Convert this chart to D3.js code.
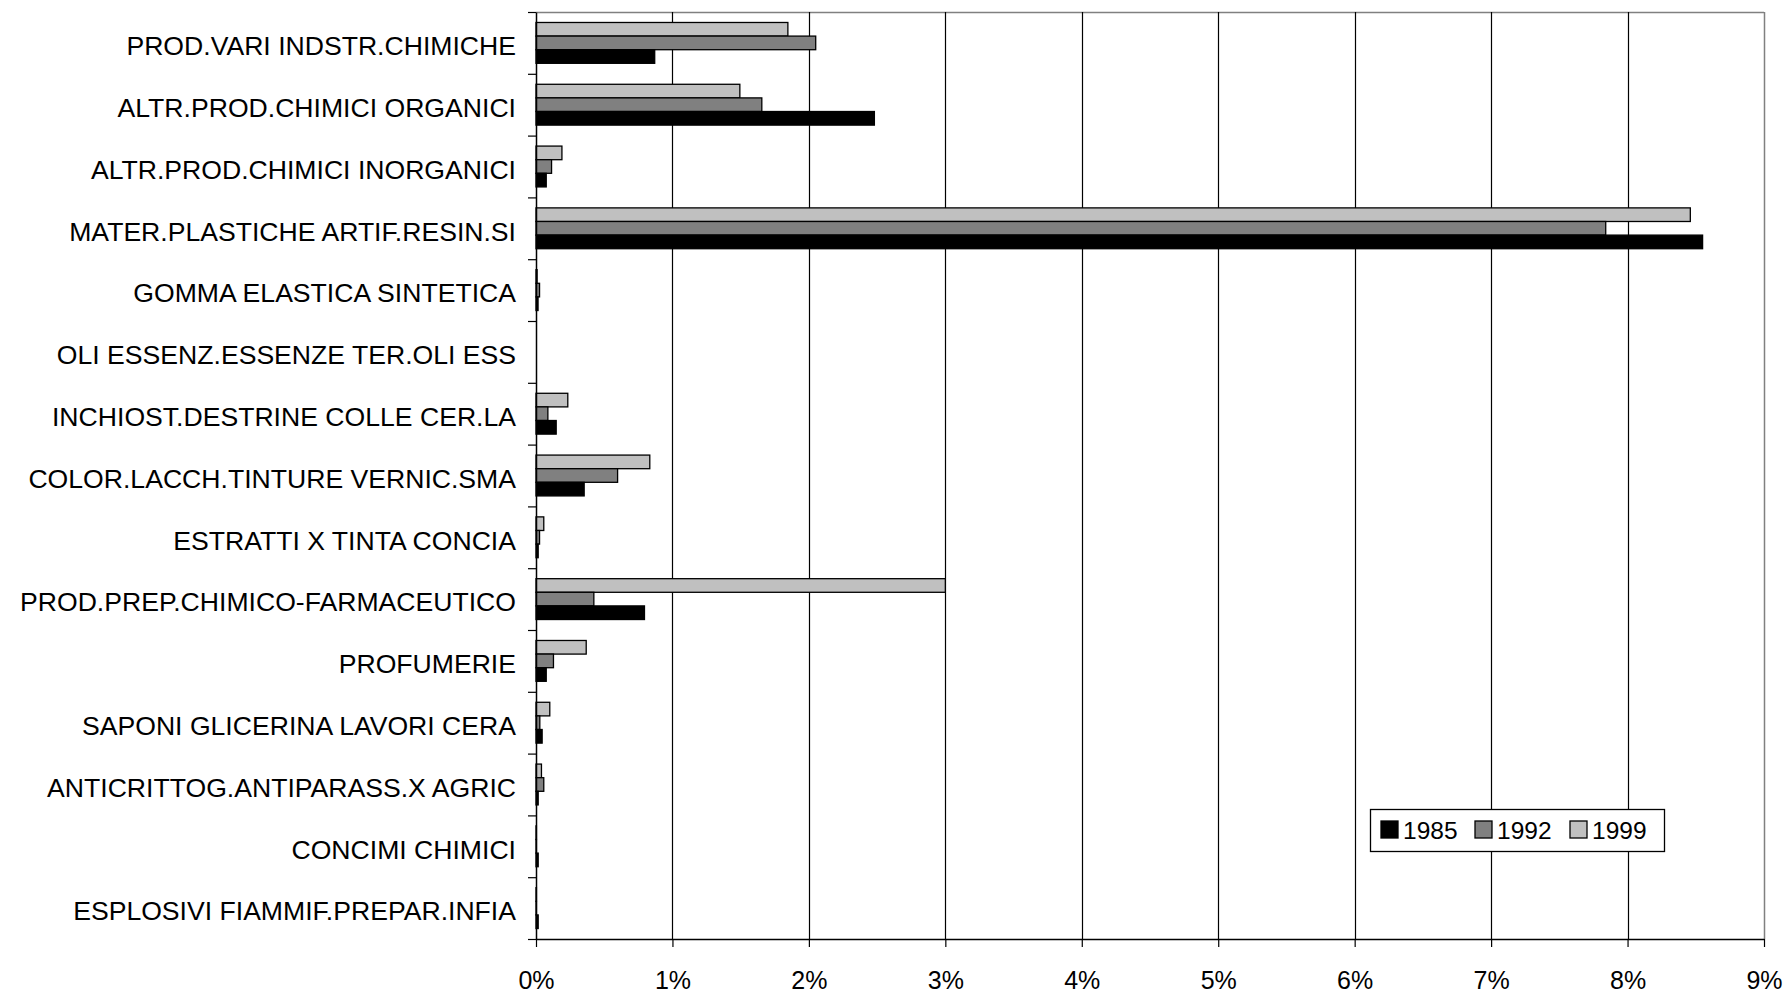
<!DOCTYPE html>
<html>
<head>
<meta charset="utf-8">
<script src="https://cdn.jsdelivr.net/npm/d3@7"></script>
<style>
  html, body { margin: 0; padding: 0; background: #fff; }
  svg { display: block; }
  text { font-family: "Liberation Sans", Arial, sans-serif; fill: #000; }
</style>
</head>
<body>
<svg id="chart" width="1785" height="993"></svg>
<script>
const categories = [
  "PROD.VARI INDSTR.CHIMICHE",
  "ALTR.PROD.CHIMICI ORGANICI",
  "ALTR.PROD.CHIMICI INORGANICI",
  "MATER.PLASTICHE ARTIF.RESIN.SI",
  "GOMMA ELASTICA SINTETICA",
  "OLI ESSENZ.ESSENZE TER.OLI ESS",
  "INCHIOST.DESTRINE COLLE CER.LA",
  "COLOR.LACCH.TINTURE VERNIC.SMA",
  "ESTRATTI X TINTA CONCIA",
  "PROD.PREP.CHIMICO-FARMACEUTICO",
  "PROFUMERIE",
  "SAPONI GLICERINA LAVORI CERA",
  "ANTICRITTOG.ANTIPARASS.X AGRIC",
  "CONCIMI CHIMICI",
  "ESPLOSIVI FIAMMIF.PREPAR.INFIA"
];
const seriesNames = ["1985", "1992", "1999"];
const values1985 = [0.87, 2.48, 0.075, 8.55, 0.015, 0, 0.148, 0.353, 0.016, 0.795, 0.075, 0.045, 0.016, 0.016, 0.016];
const values1992 = [2.05, 1.655, 0.114, 7.84, 0.026, 0, 0.087, 0.598, 0.026, 0.424, 0.128, 0.028, 0.057, 0.003, 0.003];
const values1999 = [1.846, 1.494, 0.19, 8.46, 0.008, 0, 0.233, 0.834, 0.057, 3.0, 0.368, 0.101, 0.04, 0.003, 0.003];
const xTicks = [0, 1, 2, 3, 4, 5, 6, 7, 8, 9];
const colors = { "1985": "#000000", "1992": "#808080", "1999": "#c0c0c0" };

const seriesValues = { "1985": values1985, "1992": values1992, "1999": values1999 };
const barOrder = ["1999", "1992", "1985"]; // top to bottom within a group

const svg = d3.select("#chart");
const pLeft = 536, pRight = 1764, pTop = 12, pBottom = 939;

const x = d3.scaleLinear().domain([0, 9]).range([pLeft, pRight]);
const y = d3.scaleBand().domain(categories).range([pTop, pBottom]).paddingInner(0).paddingOuter(0);
const yIdx = d3.scaleLinear().domain([0, categories.length]).range([pTop, pBottom]);
const ySub = d3.scaleBand().domain(barOrder).range([0, y.bandwidth()]).paddingInner(0).paddingOuter(0.77);

// Plot border (top and right, gray)
svg.append("line").attr("x1", pLeft).attr("x2", pRight).attr("y1", pTop + 0.5).attr("y2", pTop + 0.5)
  .attr("stroke", "#808080").attr("stroke-width", 1.5);
svg.append("line").attr("x1", pRight + 0.5).attr("x2", pRight + 0.5).attr("y1", pTop).attr("y2", pBottom)
  .attr("stroke", "#808080").attr("stroke-width", 1.5);

// Gridlines
svg.append("g").selectAll("line").data(xTicks.filter(d => d > 0 && d < 9)).join("line")
  .attr("x1", d => Math.round(x(d)) + 0.5).attr("x2", d => Math.round(x(d)) + 0.5)
  .attr("y1", pTop).attr("y2", pBottom)
  .attr("stroke", "#000").attr("stroke-width", 1.2);

// Bars
const rows = [];
categories.forEach((c, i) => {
  barOrder.forEach(s => rows.push({ cat: c, series: s, value: seriesValues[s][i] }));
});
svg.append("g").selectAll("rect").data(rows).join("rect")
  .attr("x", x(0))
  .attr("y", d => y(d.cat) + ySub(d.series))
  .attr("width", d => x(d.value) - x(0))
  .attr("height", ySub.bandwidth())
  .attr("fill", d => colors[d.series])
  .attr("stroke", "#000")
  .attr("stroke-width", 1.3);

// X axis
const xAxis = svg.append("g").attr("transform", `translate(0,${pBottom})`)
  .call(d3.axisBottom(x).tickValues(xTicks).tickFormat(d => d + "%").tickSize(8).tickSizeOuter(0).tickPadding(24));
xAxis.select(".domain").attr("stroke", "#000").attr("stroke-width", 1.5);
xAxis.selectAll(".tick line").attr("stroke", "#000").attr("stroke-width", 1.2);
xAxis.selectAll("text").attr("font-size", 25).attr("font-family", "'Liberation Sans', Arial, sans-serif").attr("fill", "#000");

// Y axis (ticks between categories)
const yAxis = svg.append("g").attr("transform", `translate(${pLeft},0)`)
  .call(d3.axisLeft(yIdx).tickValues(d3.range(categories.length + 1)).tickFormat("").tickSize(8).tickSizeOuter(0));
yAxis.select(".domain").attr("stroke", "#000").attr("stroke-width", 1.5);
yAxis.selectAll(".tick line").attr("stroke", "#000").attr("stroke-width", 1.2);

// Category labels
svg.append("g").selectAll("text").data(categories).join("text")
  .attr("x", 516)
  .attr("y", d => y(d) + y.bandwidth() / 2 + 3)
  .attr("dy", "0.35em")
  .attr("text-anchor", "end")
  .attr("font-size", 26.6)
  .text(d => d);

// Legend
const lg = svg.append("g");
lg.append("rect").attr("x", 1370.5).attr("y", 809.5).attr("width", 294).attr("height", 42)
  .attr("fill", "#fff").attr("stroke", "#000").attr("stroke-width", 1.3);
const legendX = [1381, 1475, 1570];
seriesNames.forEach((s, i) => {
  lg.append("rect").attr("x", legendX[i]).attr("y", 821).attr("width", 17).attr("height", 17)
    .attr("fill", colors[s]).attr("stroke", "#000").attr("stroke-width", 1.3);
  lg.append("text").attr("x", legendX[i] + 22).attr("y", 839).attr("font-size", 24.5).text(s);
});
</script>
</body>
</html>
